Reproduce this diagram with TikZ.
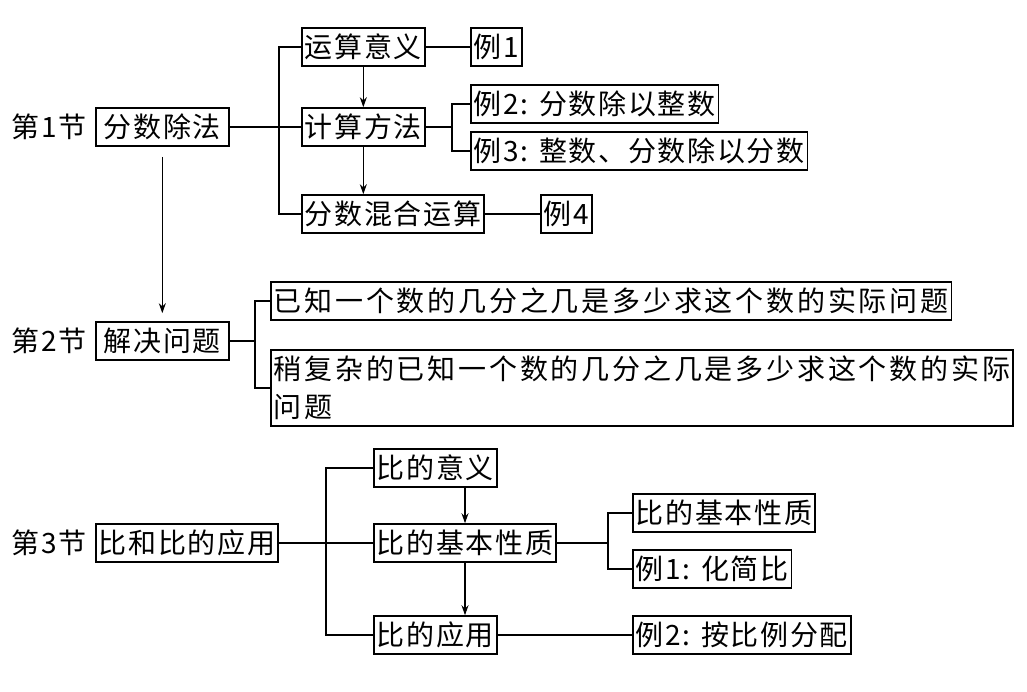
\documentclass[tikz,border=0pt]{standalone}
\usepackage{fontspec}
\setmainfont{Noto Sans CJK SC}[LetterSpace=6]
\usepackage{tikz}
\usetikzlibrary{arrows.meta,positioning}

\begin{document}
\begin{tikzpicture}[
    x=1pt,
    y=-1pt,
    font=\fontsize{28}{38}\selectfont,
    secname/.style={inner sep=0pt},
    item/.style={draw=black,line width=1.6pt,anchor=west,inner xsep=3pt,inner ysep=2pt,minimum height=38pt,align=left},
    wideitem/.style={item,inner xsep=8pt},
    longitem/.style={item,font=\fontsize{28}{38}\selectfont\addfontfeature{LetterSpace=10}},
    link/.style={draw=black,line width=1.5pt},
    flow/.style={-{Stealth[length=10pt,width=7pt]},draw=black,line width=1.2pt}
  ]
    \useasboundingbox (0,0) rectangle (1027,692);

    % section 1
    \node[wideitem] (fenshu) at (95,127) {分数除法};
    \node[secname,left=8pt of fenshu] (sec1) {第1节};
    \node[item] (yunsuan) at (301,47) {运算意义};
    \node[item] (fangfa) at (301,127) {计算方法};
    \node[item] (hunhe) at (301,214) {分数混合运算};
    \node[item] (li1) at (470,47) {例1};
    \node[item] (li2) at (470,104) {例2: 分数除以整数};
    \node[item] (li3) at (470,151) {例3: 整数、分数除以分数};
    \node[item] (li4) at (540,214) {例4};

    \coordinate (fork1) at (279,127);
    \coordinate (fork2) at (452,127);
    \draw[link] (fenshu.east) -- (fangfa.west);
    \draw[link] (yunsuan.west) -| (fork1) |- (hunhe.west);
    \draw[link] (yunsuan.east) -- (li1.west);
    \draw[link] (fangfa.east) -- (fork2);
    \draw[link] (li2.west) -| (fork2) |- (li3.west);
    \draw[link] (hunhe.east) -- (li4.west);
    \draw[flow] (yunsuan) -- (fangfa);
    \draw[flow] (fangfa.south) -- (fangfa.south |- hunhe.north);

    % section 2
    \node[wideitem] (jiejue) at (95,341) {解决问题};
    \node[secname,left=8pt of jiejue] (sec2) {第2节};
    \node[longitem] (wenti1) at (270,301) {已知一个数的几分之几是多少求这个数的实际问题};
    \node[longitem,inner ysep=6pt] (wenti2) at (270,388) {稍复杂的已知一个数的几分之几是多少求这个数的实际\\问题};

    \coordinate (fork3) at (255,341);
    \draw[link] (jiejue.east) -- (fork3);
    \draw[link] (wenti1.west) -| (fork3) |- (wenti2.west);
    \draw[flow,shorten <=10pt,shorten >=8pt] (fenshu.south) -- (fenshu.south |- jiejue.north);

    % section 3
    \node[item] (bihe) at (95,543) {比和比的应用};
    \node[secname,left=8pt of bihe] (sec3) {第3节};
    \node[item] (biyiyi) at (373,468) {比的意义};
    \node[item] (xingzhi) at (373,543) {比的基本性质};
    \node[item] (biyingyong) at (373,635) {比的应用};
    \node[item] (xingzhiright) at (632,513) {比的基本性质};
    \node[item] (li5) at (632,569) {例1: 化简比};
    \node[item] (li6) at (632,635) {例2: 按比例分配};

    \coordinate (fork4) at (326,543);
    \coordinate (fork5) at (608,543);
    \draw[link] (bihe.east) -- (xingzhi.west);
    \draw[link] (biyiyi.west) -| (fork4) |- (biyingyong.west);
    \draw[link] (xingzhi.east) -- (fork5);
    \draw[link] (xingzhiright.west) -| (fork5) |- (li5.west);
    \draw[link] (biyingyong.east) -- (li6.west);
    \draw[flow] (xingzhi.north |- biyiyi.south) -- (xingzhi.north);
    \draw[flow] (xingzhi.south) -- (xingzhi.south |- biyingyong.north);
\end{tikzpicture}
\end{document}
